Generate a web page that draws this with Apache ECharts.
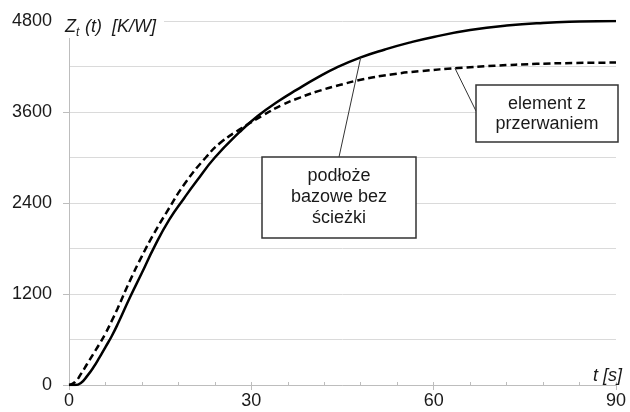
<!DOCTYPE html>
<html>
<head>
<meta charset="utf-8">
<script src="https://cdn.jsdelivr.net/npm/echarts@6/dist/echarts.min.js"></script>
<style>
  html, body { margin: 0; padding: 0; background: #fff; }
  #chart { width: 630px; height: 412px; }
</style>
</head>
<body>
<div id="chart"></div>
<script>
// czas t [s] i Zt(t) [K/W]
var solidT = [0, 1, 2, 3, 4, 5, 6, 7, 8, 10, 12, 14, 16.5, 19, 21, 24, 28, 31, 34.5, 37.5, 41, 44, 48, 52, 56, 60, 66, 72, 78, 84, 90];
var solidZ = [0, 0, 30, 120, 230, 360, 500, 640, 800, 1150, 1480, 1815, 2180, 2470, 2690, 3000, 3330, 3545, 3745, 3895, 4060, 4185, 4320, 4425, 4515, 4590, 4680, 4740, 4775, 4792, 4800];

var dashedT = [0, 1, 2, 3, 4, 5, 6, 7, 8, 10, 12, 14, 16, 19, 22.5, 25, 28.5, 32, 35, 38, 41, 44.5, 48, 53, 58, 64, 70, 77, 83, 90];
var dashedZ = [0, 40, 150, 280, 410, 540, 680, 840, 1010, 1370, 1700, 2000, 2270, 2650, 3000, 3200, 3390, 3560, 3690, 3790, 3875, 3955, 4025, 4095, 4140, 4180, 4210, 4235, 4246, 4252];

var xTicks = [0, 30, 60, 90];
var yTicks = [0, 1200, 2400, 3600, 4800];

var labelSolid = ['podłoże', 'bazowe bez', 'ścieżki'];
var labelDashed = ['element z', 'przerwaniem'];
// punkty na krzywych, do ktorych prowadza linie odnosnikow
var pointSolid = [48, 4320];
var pointDashed = [63.5, 4178];

var font = 'Liberation Sans, Arial, sans-serif';
var textColor = '#1a1a1a';
var axisColor = '#bdbdbd';
var gridColor = '#dadada';

function pairs(ts, zs) {
  return ts.map(function (t, i) { return [t, zs[i]]; });
}

var chart = echarts.init(document.getElementById('chart'), null, { renderer: 'canvas' });

var option = {
  animation: false,
  backgroundColor: '#ffffff',
  grid: { left: 69, right: 14, top: 21, bottom: 27, containLabel: false },
  xAxis: [{
    type: 'value',
    min: xTicks[0],
    max: xTicks[xTicks.length - 1],
    interval: xTicks[1] - xTicks[0],
    axisLine: { show: true, lineStyle: { color: axisColor, width: 1 } },
    axisTick: { show: true, length: 5, lineStyle: { color: axisColor } },
    splitLine: { show: false },
    axisLabel: { fontSize: 18, color: textColor, fontFamily: font, margin: 7, formatter: function (v) { return String(v); } }
  }, {
    // drobne znaczniki co 6 s skierowane do wnetrza
    type: 'value',
    position: 'bottom',
    min: 0,
    max: 90,
    interval: 6,
    axisLine: { show: false },
    axisTick: { show: true, inside: true, length: 3, lineStyle: { color: axisColor } },
    axisLabel: { show: false },
    splitLine: { show: false }
  }],
  yAxis: {
    type: 'value',
    min: yTicks[0],
    max: yTicks[yTicks.length - 1],
    interval: yTicks[1] - yTicks[0],
    axisLine: { show: true, lineStyle: { color: axisColor, width: 1 } },
    axisTick: { show: true, length: 6, lineStyle: { color: axisColor } },
    minorTick: { show: false, splitNumber: 2 },
    splitLine: { show: true, lineStyle: { color: gridColor, width: 1 } },
    minorSplitLine: { show: true, lineStyle: { color: gridColor, width: 1 } },
    axisLabel: { fontSize: 18, color: textColor, fontFamily: font, margin: 17, formatter: function (v) { return String(v); } }
  },
  series: [{
    name: 'podłoże bazowe bez ścieżki',
    type: 'line',
    xAxisIndex: 0,
    data: pairs(solidT, solidZ),
    smooth: true,
    symbol: 'none',
    lineStyle: { color: '#000', width: 2.5 },
    z: 3
  }, {
    name: 'element z przerwaniem',
    type: 'line',
    xAxisIndex: 0,
    data: pairs(dashedT, dashedZ),
    smooth: true,
    symbol: 'none',
    lineStyle: { color: '#000', width: 2.5, type: [7, 4] },
    z: 3
  }]
};

chart.setOption(option);

function boxText(lines, cx, y0, step) {
  return lines.map(function (s, i) {
    return {
      type: 'text',
      z: 20,
      style: {
        text: s, x: cx, y: y0 + i * step,
        align: 'center', verticalAlign: 'middle',
        fontSize: 18, fontFamily: font, fill: textColor
      }
    };
  });
}

var ps = chart.convertToPixel({ gridIndex: 0 }, pointSolid);
var pd = chart.convertToPixel({ gridIndex: 0 }, pointDashed);

var graphics = [
  // tytul osi Y na bialym tle
  { type: 'rect', z: 15, shape: { x: 58, y: 2, width: 106, height: 36 }, style: { fill: '#fff' } },
  { type: 'text', z: 16, style: { text: 'Z', x: 65, y: 27, verticalAlign: 'middle', fontSize: 18, fontStyle: 'italic', fontFamily: font, fill: textColor } },
  { type: 'text', z: 16, style: { text: 't', x: 76, y: 33, verticalAlign: 'middle', fontSize: 12, fontStyle: 'italic', fontFamily: font, fill: textColor } },
  { type: 'text', z: 16, style: { text: '(t)  [K/W]', x: 85, y: 27, verticalAlign: 'middle', fontSize: 18, fontStyle: 'italic', fontFamily: font, fill: textColor } },
  // nazwa osi X
  { type: 'text', z: 16, style: { text: 't [s]', x: 622, y: 376, align: 'right', verticalAlign: 'middle', fontSize: 18, fontStyle: 'italic', fontFamily: font, fill: textColor } },
  // odnosniki
  { type: 'line', z: 18, shape: { x1: 339, y1: 157, x2: ps[0], y2: ps[1] }, style: { stroke: '#333', lineWidth: 1 } },
  { type: 'line', z: 18, shape: { x1: 476, y1: 111, x2: pd[0], y2: pd[1] }, style: { stroke: '#333', lineWidth: 1 } },
  { type: 'rect', z: 19, shape: { x: 262, y: 157, width: 154, height: 81 }, style: { fill: '#fff', stroke: '#333', lineWidth: 1.5 } },
  { type: 'rect', z: 19, shape: { x: 476, y: 85, width: 142, height: 57 }, style: { fill: '#fff', stroke: '#333', lineWidth: 1.5 } }
].concat(boxText(labelSolid, 339, 176, 21)).concat(boxText(labelDashed, 547, 104, 20));

chart.setOption({ graphic: graphics });
</script>
</body>
</html>
